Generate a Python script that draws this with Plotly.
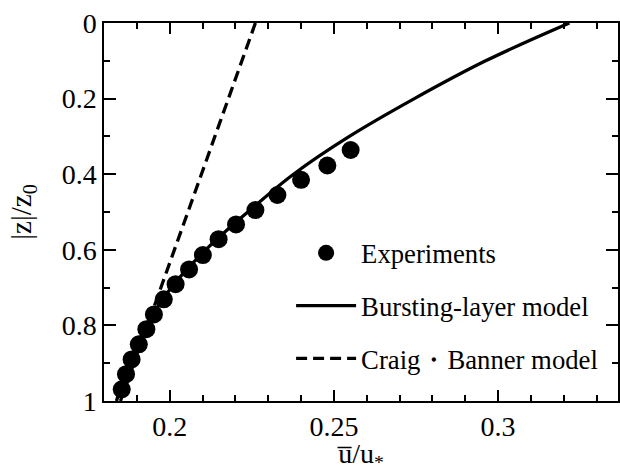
import plotly.graph_objects as go

# Experiments
exp_u = [0.1854, 0.1867, 0.1884, 0.1906, 0.1929, 0.1952, 0.1982, 0.2018, 0.2059,
         0.2101, 0.2149, 0.2202, 0.2261, 0.2328, 0.2400, 0.2480, 0.2551]
exp_z = [0.969, 0.929, 0.890, 0.850, 0.810, 0.771, 0.731, 0.691, 0.652,
         0.614, 0.572, 0.533, 0.495, 0.455, 0.415, 0.377, 0.336]

# Bursting-layer model
burst_u = [0.3217, 0.2962, 0.2745, 0.2547, 0.2377, 0.2238, 0.2110, 0.2005,
           0.1930, 0.1876, 0.1838]
burst_z = [0.0, 0.1, 0.2, 0.3, 0.4, 0.5, 0.6, 0.7, 0.8, 0.9, 1.0]

# Craig-Banner model
cb_u = [0.2261, 0.2096, 0.1850]
cb_z = [0.0, 0.402, 1.0]

x_tickvals = [0.2, 0.25, 0.3]
x_ticktext = ["0.2", "0.25", "0.3"]
y_tickvals = [0, 0.2, 0.4, 0.6, 0.8, 1]
y_ticktext = ["0", "0.2", "0.4", "0.6", "0.8", "1"]

FONT = "Liberation Serif, Times New Roman, serif"

fig = go.Figure()
fig.add_trace(go.Scatter(x=exp_u, y=exp_z, mode="markers", name="Experiments",
                         legendgroup="a",
                         marker=dict(color="black", size=18, line=dict(width=0))))
fig.add_trace(go.Scatter(x=burst_u, y=burst_z, mode="lines", name="Bursting-layer model",
                         legendgroup="b",
                         line=dict(color="black", width=3.3, shape="spline", smoothing=1.0)))
fig.add_trace(go.Scatter(x=cb_u, y=cb_z, mode="lines", name="Craig・Banner model",
                         legendgroup="c",
                         line=dict(color="black", width=3.3, dash="11px,6px")))

axis_common = dict(showline=True, linecolor="black", linewidth=1.5, mirror="ticks",
                   ticks="inside", tickcolor="black", tickwidth=1.5, showgrid=False,
                   zeroline=False, tickfont=dict(family=FONT, size=28, color="black"))

fig.update_xaxes(range=[0.18, 0.3365], tickvals=x_tickvals, ticktext=x_ticktext,
                 ticklen=11,
                 minor=dict(dtick=0.01, tick0=0.18, ticks="inside", ticklen=6,
                            tickcolor="black", tickwidth=1.5),
                 title=dict(text="u\u0305/u<sub>*</sub>", font=dict(family=FONT, size=28, color="black"),
                            standoff=2),
                 **axis_common)
fig.update_yaxes(range=[1, 0], tickvals=y_tickvals, ticktext=y_ticktext,
                 ticklen=12,
                 minor=dict(dtick=0.1, tick0=0, ticks="inside", ticklen=6,
                            tickcolor="black", tickwidth=1.5),
                 title=dict(text="|z|/z<sub>0</sub>", font=dict(family=FONT, size=29, color="black"),
                            standoff=22),
                 **axis_common)

fig.update_layout(
    width=620, height=473,
    margin=dict(l=104, r=0, t=23, b=72),
    plot_bgcolor="white", paper_bgcolor="white",
    legend=dict(x=0.364, y=0.455, xanchor="left", yanchor="top",
                font=dict(family=FONT, size=26.7, color="black"),
                bgcolor="rgba(0,0,0,0)", itemwidth=60,
                traceorder="grouped", tracegroupgap=15),
    showlegend=True,
)

fig.write_html("out.html")
